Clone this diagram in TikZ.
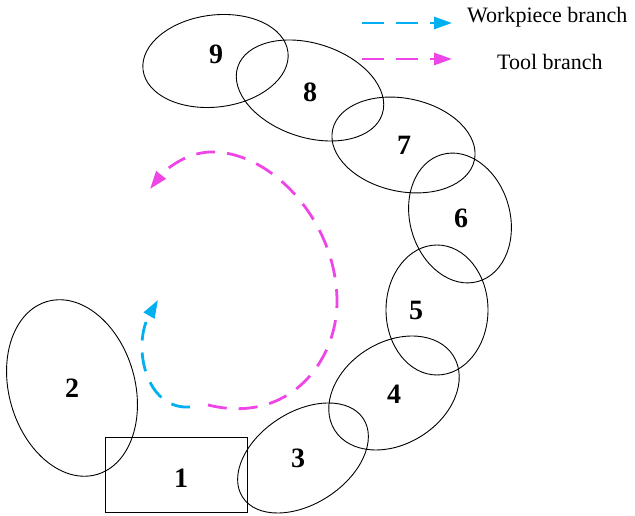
\documentclass[tikz,border=0pt]{standalone}
\usepackage{fontspec}
\setmainfont{Liberation Serif}
\usetikzlibrary{shapes.geometric,arrows.meta}
\definecolor{wpcyan}{RGB}{0,176,240}
\definecolor{toolmag}{RGB}{238,70,230}
\tikzset{
  ell/.style={draw=black, line width=0.9pt, ellipse, inner sep=0pt},
  rectbox/.style={draw=black, line width=0.9pt, rectangle, inner sep=0pt},
  num/.style={font=\fontsize{28}{30}\selectfont\bfseries, inner sep=0pt},
  legtext/.style={font=\fontsize{22}{24}\selectfont, anchor=west, inner sep=0pt},
  branch/.style={line width=2.8pt, dash pattern=on 19pt off 12pt,
    -{Triangle[length=18pt,width=12pt]}},
  legbranch/.style={line width=2.8pt, dash pattern=on 22pt off 12pt,
    -{Triangle[length=18pt,width=12pt]}},
}
\begin{document}
\begin{tikzpicture}[x=1pt,y=1pt]
\useasboundingbox (0,0) rectangle (635,516);
% parts
\node[rectbox, minimum width=142pt, minimum height=75pt] (r1) at (176,41.5) {};
\node[ell, minimum width=126pt, minimum height=180pt, rotate=16] (e2) at (72,128) {};
\node[ell, minimum width=144pt, minimum height=92pt, rotate=33] (e3) at (303,58) {};
\node[ell, minimum width=140pt, minimum height=102pt, rotate=32] (e4) at (394,123) {};
\node[ell, minimum width=102pt, minimum height=130pt] (e5) at (437,206) {};
\node[ell, minimum width=100pt, minimum height=132pt, rotate=16] (e6) at (460,298) {};
\node[ell, minimum width=145pt, minimum height=93pt, rotate=-12] (e7) at (403.5,371) {};
\node[ell, minimum width=152pt, minimum height=94pt, rotate=-18] (e8) at (310,425.5) {};
\node[ell, minimum width=146pt, minimum height=92pt, rotate=7] (e9) at (215.5,455) {};
% labels
\node[num] (n1) at (181,38) {1};
\node[num] (n2) at (72,128) {2};
\node[num] (n3) at (298,58) {3};
\node[num] (n4) at (394,122) {4};
\node[num] (n5) at (416,206) {5};
\node[num] (n6) at (461,298) {6};
\node[num] (n7) at (404,371) {7};
\node[num] (n8) at (310,424) {8};
\node[num] (n9) at (216,462) {9};
% branches
\coordinate (cs) at (190,109);
\coordinate (ce) at (158,216);
\coordinate (ms) at (208,111);
\coordinate (mr) at (337,216);
\coordinate (mt) at (210,364);
\coordinate (me) at (150,327);
\draw[branch, draw=wpcyan] (cs) .. controls (145,106) and (132,171) .. (ce);
\draw[branch, draw=toolmag] (ms) .. controls (290,91) and (338,156) .. (mr)
  .. controls (336,296) and (270,366) .. (mt) .. controls (185,363) and (165,346) .. (me);
% legend
\coordinate (l1a) at (362,493);
\coordinate (l1b) at (452,493);
\coordinate (l2a) at (362,457);
\coordinate (l2b) at (452,457);
\draw[legbranch, draw=wpcyan] (l1a) -- (l1b);
\draw[legbranch, draw=toolmag] (l2a) -- (l2b);
\node[legtext] (t1) at (467,499) {Workpiece branch};
\node[legtext] (t2) at (497,454) {Tool branch};
\end{tikzpicture}
\end{document}
